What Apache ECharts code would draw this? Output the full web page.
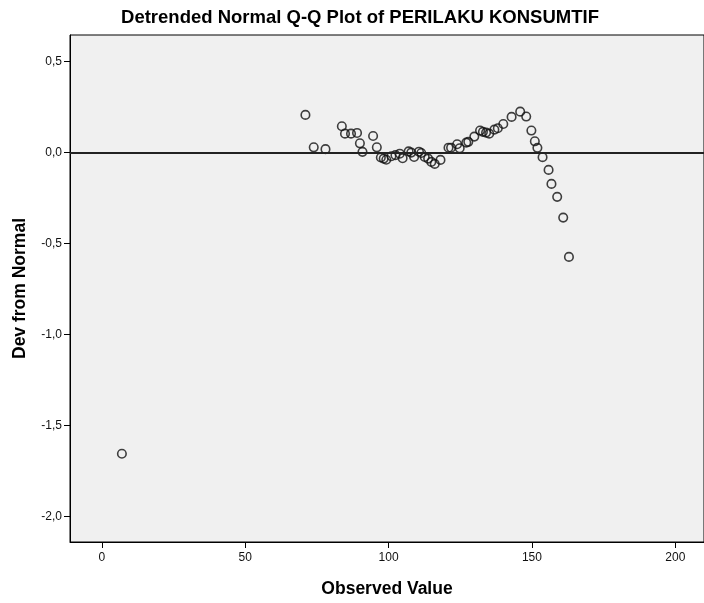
<!DOCTYPE html>
<html>
<head>
<meta charset="utf-8">
<script src="https://cdn.jsdelivr.net/npm/echarts@6/dist/echarts.min.js"></script>
<style>
html,body{margin:0;padding:0;background:#fff;}
#chart{width:704px;height:603px;}
</style>
</head>
<body>
<div id="chart"></div>
<script>
// Observed values (x) and deviations from normal (y)
const observedValues = [7, 71, 73.9, 78, 83.7, 84.8, 86.9, 89, 90, 90.9, 94.6, 95.9, 97.3, 98.3, 99.2,
  101, 102.4, 103.9, 104.9, 107, 107.9, 108.9, 110.6, 111.4, 112.6, 113.8, 114.9, 116.1, 118.1,
  120.9, 121.8, 123.9, 124.8, 127.1, 127.8, 129.9, 131.9, 132.9, 134, 135.1, 136.9, 138.1, 140,
  142.9, 145.9, 148, 149.8, 151, 151.9, 153.7, 155.8, 156.8, 158.8, 160.9, 162.9];
const devFromNormal = [-1.655, 0.206, 0.028, 0.018, 0.144, 0.103, 0.103, 0.107, 0.05, 0.003, 0.09, 0.028, -0.028, -0.034, -0.04,
  -0.021, -0.015, -0.007, -0.032, 0.006, -0.001, -0.025, 0.004, -0.003, -0.025, -0.034, -0.052, -0.063, -0.041,
  0.026, 0.026, 0.045, 0.023, 0.054, 0.058, 0.087, 0.12, 0.113, 0.109, 0.103, 0.125, 0.133, 0.156,
  0.195, 0.224, 0.197, 0.12, 0.061, 0.025, -0.026, -0.096, -0.173, -0.244, -0.358, -0.574];
const xTicks = [0, 50, 100, 150, 200];
const yTicks = [-2.0, -1.5, -1.0, -0.5, 0.0, 0.5];
const titleText = 'Detrended Normal Q-Q Plot of PERILAKU KONSUMTIF';
const xName = 'Observed Value';
const yName = 'Dev from Normal';

const points = observedValues.map((v, i) => [v, devFromNormal[i]]);
const fmt = v => Number(v).toFixed(1).replace('.', ',');
const FONT = 'Liberation Sans, Arial, sans-serif';

const chart = echarts.init(document.getElementById('chart'), null, {renderer: 'canvas'});
chart.setOption({
  animation: false,
  backgroundColor: '#ffffff',
  graphic: [{
    type: 'text', x: 360, y: 18,
    style: {text: titleText, font: 'bold 18.5px ' + FONT, fill: '#000', align: 'center', verticalAlign: 'middle'}
  }],
  grid: {left: 70, top: 35, right: -4, bottom: 60, show: true,
    backgroundColor: '#f0f0f0', borderColor: '#000', borderWidth: 1},
  xAxis: {
    type: 'value', min: -11.1, max: 210,
    name: xName, nameLocation: 'middle', nameGap: 38,
    nameTextStyle: {fontFamily: FONT, fontWeight: 'bold', fontSize: 17.5, color: '#000'},
    axisLine: {show: true, onZero: false, lineStyle: {color: '#000', width: 1}},
    axisTick: {show: true, length: 6, customValues: xTicks, lineStyle: {color: '#000'}},
    axisLabel: {customValues: xTicks, margin: 10, fontFamily: FONT, fontSize: 12, color: '#111'},
    splitLine: {show: false}
  },
  yAxis: {
    type: 'value', min: -2.14, max: 0.645,
    name: yName, nameLocation: 'middle', nameGap: 41, nameRotate: 90,
    nameTextStyle: {fontFamily: FONT, fontWeight: 'bold', fontSize: 17.5, color: '#000'},
    axisLine: {show: true, onZero: false, lineStyle: {color: '#000', width: 1}},
    axisTick: {show: true, length: 6, customValues: yTicks, lineStyle: {color: '#000'}},
    axisLabel: {customValues: yTicks, margin: 8, formatter: fmt, fontFamily: FONT, fontSize: 12, color: '#111'},
    splitLine: {show: false}
  },
  series: [{
    type: 'scatter',
    data: points,
    symbol: 'circle',
    symbolSize: 8.5,
    itemStyle: {color: 'rgba(0,0,0,0)', borderColor: '#111', borderWidth: 1.6},
    markLine: {
      silent: true, symbol: ['none', 'none'],
      label: {show: false},
      lineStyle: {color: '#222', width: 2, type: 'solid'},
      data: [{yAxis: 0}]
    }
  }]
});
</script>
</body>
</html>
